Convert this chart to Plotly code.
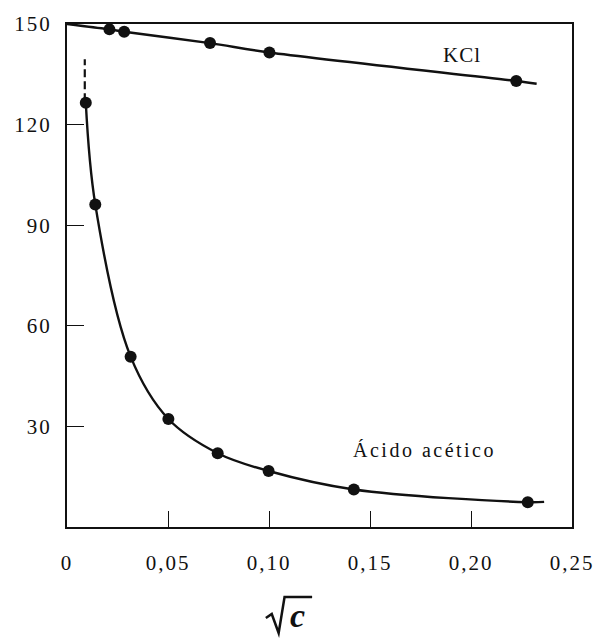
import plotly.graph_objects as go

# ---- data ----
kcl_x = [0.0210, 0.0283, 0.0708, 0.1002, 0.2224]
kcl_y = [148.4, 147.7, 144.3, 141.5, 133.0]
kcl_curve_x = [0.0, 0.0210, 0.0283, 0.0708, 0.1002, 0.2224, 0.2325]
kcl_curve_y = [150.0, 148.4, 147.7, 144.3, 141.5, 133.0, 132.2]

acet_x = [0.0093, 0.0140, 0.0315, 0.0502, 0.0746, 0.0998, 0.1420, 0.2281]
acet_y = [126.5, 96.2, 50.8, 32.2, 22.0, 16.7, 11.2, 7.4]
acet_curve_x = [0.0093, 0.0140, 0.0315, 0.0502, 0.0746, 0.0998, 0.1420, 0.2281, 0.2362]
acet_curve_y = [126.5, 96.2, 50.8, 32.2, 22.0, 16.7, 11.2, 7.4, 7.5]
acet_dash_x = [0.0088, 0.0088]
acet_dash_y = [127.0, 139.5]

x_ticks = [0, 0.05, 0.10, 0.15, 0.20, 0.25]
x_labels = ["0", "0,05", "0,10", "0,15", "0,20", "0,25"]
y_ticks = [30, 60, 90, 120, 150]
y_labels = ["30", "60", "90", "120", "150"]

# ---- layout geometry (pixels) ----
W, H = 606, 638
L, R, T, B = 67, 26, 24, 111
pw, ph = W - L - R, H - T - B

def px(x):
    return (x - L) / pw

def py(y):
    return (H - B - y) / ph

def spaced(s, sp=2):
    return '<span style="letter-spacing:{}px">{}</span>'.format(sp, s)

FONT = "Liberation Serif"
ink = "#111111"

fig = go.Figure()
fig.add_trace(go.Scatter(x=kcl_curve_x, y=kcl_curve_y, mode="lines",
                         line=dict(color=ink, width=2.4, shape="spline", smoothing=0.8),
                         hoverinfo="skip", showlegend=False))
fig.add_trace(go.Scatter(x=acet_curve_x, y=acet_curve_y, mode="lines",
                         line=dict(color=ink, width=2.4, shape="spline", smoothing=1.0),
                         hoverinfo="skip", showlegend=False))
fig.add_trace(go.Scatter(x=acet_dash_x, y=acet_dash_y, mode="lines",
                         line=dict(color=ink, width=2.2, dash="8px,4px"),
                         hoverinfo="skip", showlegend=False))
fig.add_trace(go.Scatter(x=kcl_x, y=kcl_y, mode="markers",
                         marker=dict(color=ink, size=12), name="KCl", showlegend=False))
fig.add_trace(go.Scatter(x=acet_x, y=acet_y, mode="markers",
                         marker=dict(color=ink, size=12), name="Ácido acético", showlegend=False))

fig.update_xaxes(range=[0, 0.25], tickvals=x_ticks, ticktext=[spaced(t) for t in x_labels],
                 ticks="inside", ticklen=16, tickwidth=1.3, tickcolor=ink,
                 showline=True, linecolor=ink, linewidth=2, mirror=True,
                 showgrid=False, zeroline=False, ticklabelstandoff=16,
                 tickfont=dict(family=FONT, size=21, color=ink))
fig.update_yaxes(range=[0, 150], tickvals=y_ticks, ticktext=[spaced(t) for t in y_labels],
                 ticks="inside", ticklen=17, tickwidth=1.3, tickcolor=ink,
                 showline=True, linecolor=ink, linewidth=2, mirror=True,
                 showgrid=False, zeroline=False, ticklabelstandoff=9,
                 tickfont=dict(family=FONT, size=21, color=ink))

fig.add_annotation(x=0.1954, y=140.8, text=spaced("KCl", 1), showarrow=False,
                   font=dict(family=FONT, size=21, color=ink), xanchor="center", yanchor="middle")
fig.add_annotation(x=0.177, y=23, text=spaced("Ácido acético", 2.5), showarrow=False,
                   font=dict(family=FONT, size=20, color=ink), xanchor="center", yanchor="middle")

# axis title: sqrt(c)
fig.add_annotation(xref="paper", yref="paper", x=px(301), y=py(615), text="<b><i>c</i></b>",
                   showarrow=False, font=dict(family=FONT, size=34, color=ink),
                   xanchor="center", yanchor="middle")
rad = "M {} {} L {} {} L {} {} L {} {} L {} {}".format(
    px(269), py(618), px(275), py(614), px(282), py(633), px(288), py(597), px(316), py(597))
fig.add_shape(type="path", xref="paper", yref="paper", path=rad,
              line=dict(color=ink, width=2.5))

fig.update_layout(width=W, height=H, margin=dict(l=L, r=R, t=T, b=B),
                  paper_bgcolor="white", plot_bgcolor="white")
fig.write_html("out.html")
